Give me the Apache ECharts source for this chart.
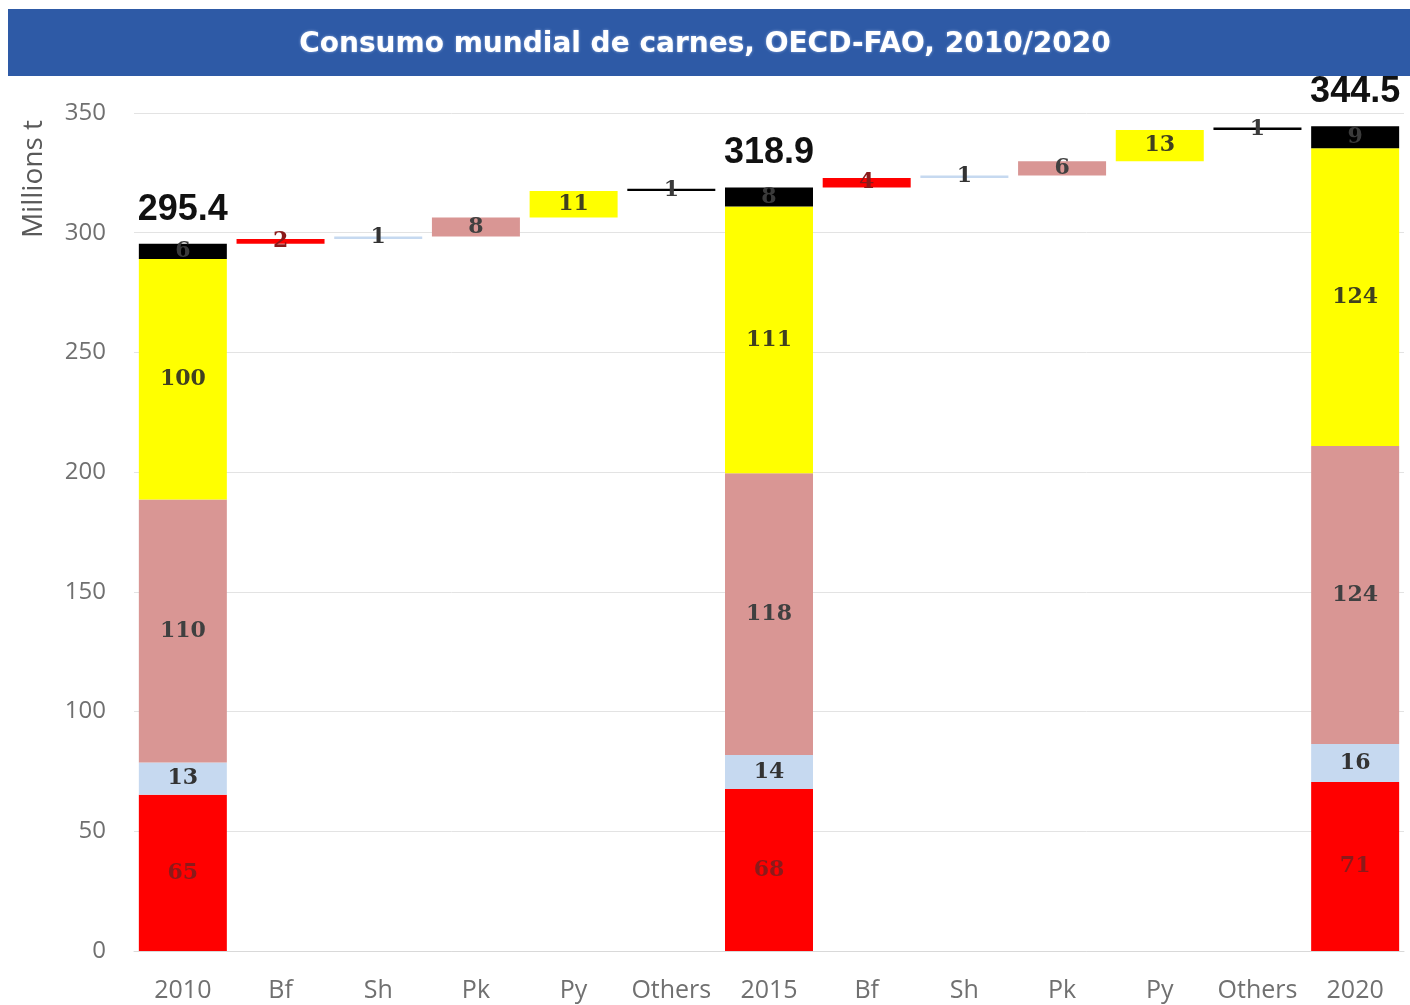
<!DOCTYPE html>
<html>
<head>
<meta charset="utf-8">
<script src="https://cdn.jsdelivr.net/npm/echarts@6/dist/echarts.min.js"></script>
<style>
html,body{margin:0;padding:0;background:#fff;}
#chart{width:1410px;height:1005px;}
</style>
</head>
<body>
<div id="chart"></div>
<script>
// ---- data ----
var categories = ['2010','Bf','Sh','Pk','Py','Others','2015','Bf','Sh','Pk','Py','Others','2020'];
var yearIndex = [0, 6, 12];
var totals = [295.4, 318.9, 344.5];
var beef    = [65.3, 67.7, 70.6];
var sheep   = [13.4, 14.2, 15.9];
var pork    = [109.9, 117.6, 124.4];
var poultry = [100.4, 111.4, 124.4];
var others  = [6.4, 8.0, 9.2];
var change2010to2015 = [2, 1, 8, 11, 1];   // Bf, Sh, Pk, Py, Others
var change2015to2020 = [4, 1, 6, 13, 1];
var yTicks = {min: 0, max: 350, interval: 50};

// ---- build series arrays ----
var n = categories.length;
function empty(){ var a=[]; for(var i=0;i<n;i++) a.push('-'); return a; }
var base = empty(), sBf = empty(), sSh = empty(), sPk = empty(), sPy = empty(), sOt = empty(), sTot = empty();
var colArrays = [beef, sheep, pork, poultry, others];
var segArrays = [sBf, sSh, sPk, sPy, sOt];
yearIndex.forEach(function(ci, k){
  base[ci] = 0;
  for (var j=0;j<5;j++) segArrays[j][ci] = colArrays[j][k];
  sTot[ci] = 0;
});
[change2010to2015, change2015to2020].forEach(function(ch, p){
  var start = yearIndex[p] + 1;
  var cum = totals[p];
  for (var j=0;j<5;j++){
    base[start+j] = cum;
    segArrays[j][start+j] = ch[j];
    cum += ch[j];
  }
});
var totalLabelMap = {};
yearIndex.forEach(function(ci,k){ totalLabelMap[ci] = totals[k]; });

function segSeries(name, data, color, labelColor){
  return {
    name: name, type:'bar', stack:'main', data:data, barWidth:88,
    itemStyle:{color:color},
    label:{show:true, position:'inside', color:labelColor,
      fontFamily:'DejaVu Serif', fontWeight:'bold', fontSize:22,
      formatter:function(p){ return Math.round(p.value); }},
    emphasis:{disabled:true}
  };
}

var chart = echarts.init(document.getElementById('chart'), null, {renderer:'canvas'});
chart.setOption({
  animation:false,
  backgroundColor:'#ffffff',
  title:{
    text:'Consumo mundial de carnes, OECD-FAO, 2010/2020',
    left:'center', top:26,
    textStyle:{color:'#ffffff', fontFamily:'DejaVu Sans', fontWeight:'bold', fontSize:28,
      textShadowColor:'rgba(200,220,255,0.6)', textShadowBlur:3}
  },
  graphic:[
    {type:'rect', left:8, top:9, z:-1, shape:{width:1402, height:67}, style:{fill:'#2E5AA6'}},
    {type:'text', left:20, top:120, rotation:Math.PI/2, z:10,
      style:{text:'Millions t', fill:'#595959', font:'28px "Open Sans", sans-serif'}}
  ],
  grid:{left:134, right:6, top:113, bottom:54},
  xAxis:{
    type:'category', data:categories,
    axisLine:{lineStyle:{color:'#d9d9d9', width:1}},
    axisTick:{show:false},
    axisLabel:{color:'#707070', fontSize:25, fontFamily:'Open Sans', margin:27, interval:0}
  },
  yAxis:{
    type:'value', min:yTicks.min, max:yTicks.max, interval:yTicks.interval,
    axisLine:{show:false}, axisTick:{show:false},
    splitLine:{lineStyle:{color:'#e3e3e3', width:1}},
    axisLabel:{color:'#707070', fontSize:24, fontFamily:'Open Sans', margin:28}
  },
  series:[
    {name:'base', type:'bar', stack:'main', data:base, barWidth:88,
      itemStyle:{color:'rgba(0,0,0,0)'}, emphasis:{disabled:true}, silent:true},
    segSeries('Bf', sBf, '#FF0000', '#8B1A1A'),
    segSeries('Sh', sSh, '#C6D9F0', '#333333'),
    segSeries('Pk', sPk, '#D99694', '#404040'),
    segSeries('Py', sPy, '#FFFF00', '#404020'),
    segSeries('Others', sOt, '#000000', '#3a3a3a'),
    {name:'total', type:'bar', stack:'main', data:sTot, barWidth:88,
      itemStyle:{color:'rgba(0,0,0,0)'}, emphasis:{disabled:true}, silent:true,
      label:{show:true, position:'top', distance:16, color:'#111111',
        fontFamily:'Liberation Sans', fontWeight:'bold', fontSize:36,
        formatter:function(p){ return totalLabelMap[p.dataIndex].toFixed(1); }}}
  ]
});
</script>
</body>
</html>
